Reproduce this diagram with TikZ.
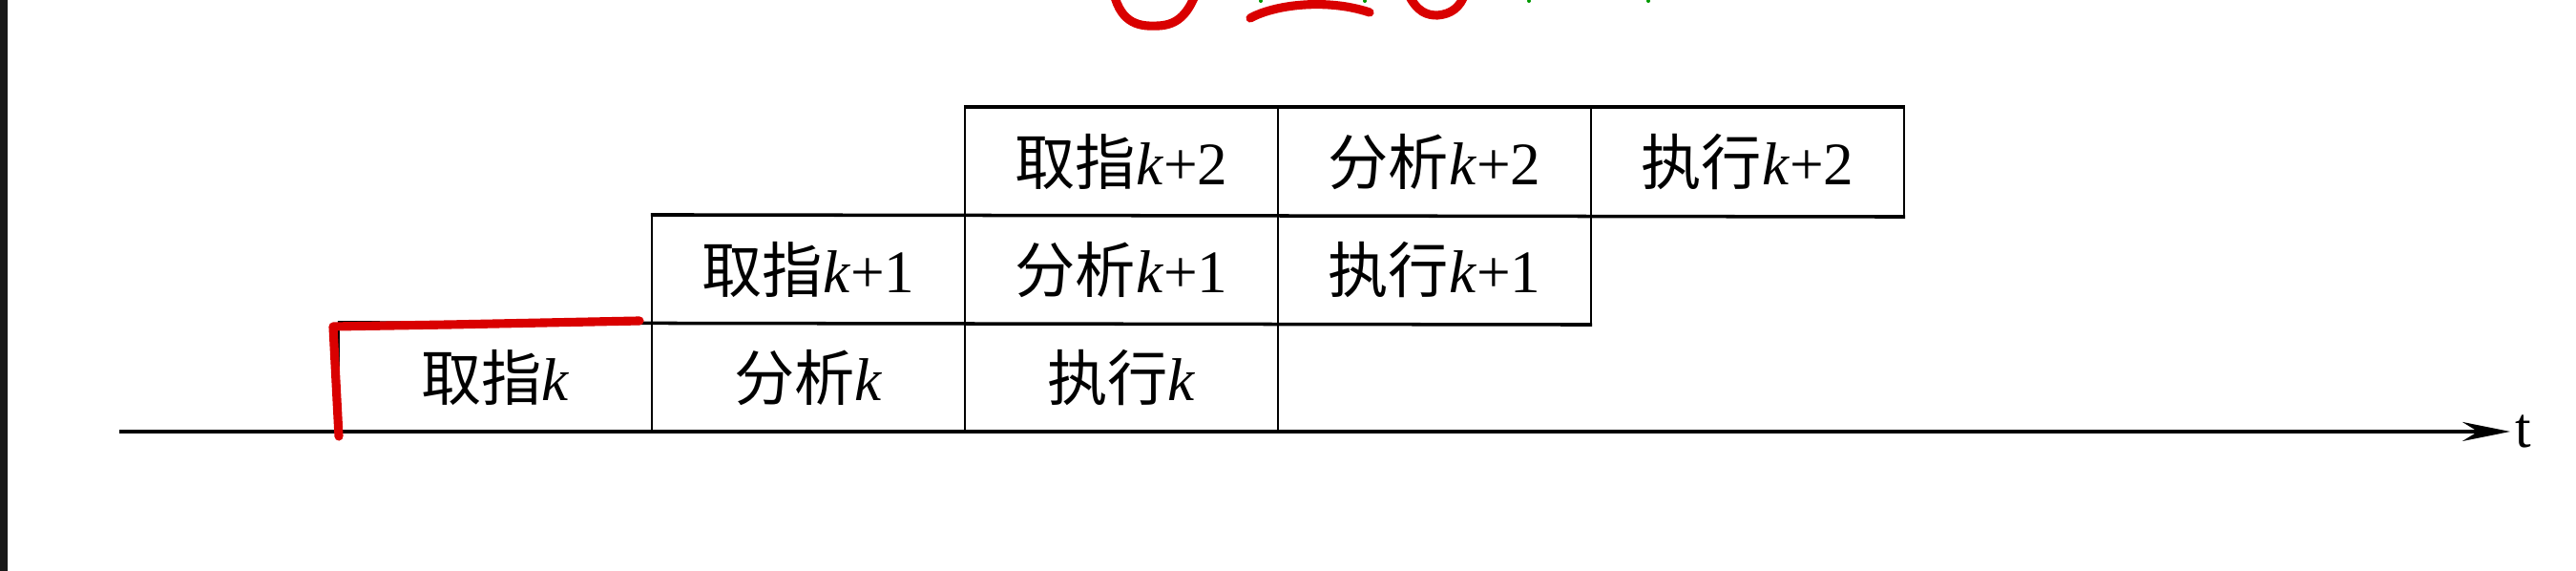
\documentclass[tikz,border=0pt]{standalone}
\usepackage{fontspec}
\setmainfont{Liberation Serif}
\newfontfamily\cjk{Noto Sans CJK SC}
\usetikzlibrary{arrows.meta}

\tikzset{
  cell/.style={draw, line width=0.6pt, minimum width=3.28cm, minimum height=1.13cm,
    inner sep=0pt, font=\fontsize{18}{20}\selectfont},
  rowline/.style={line width=1pt},
  redmark/.style={red!85!black, line width=2.6pt, line cap=round, line join=round}
}
\newcommand{\op}[2]{{\cjk 
#1}\textit{k}#2}

\begin{document}
\begin{tikzpicture}
\useasboundingbox (0,0) rectangle (26.99,5.98);
\fill[white] (0,0) rectangle (26.99,5.98);
\fill[black!90] (0,0) rectangle (0.08,5.98);

% instruction k
\node[cell] (fetch0) at (5.19,2.025) {\op{取指}{}};
\node[cell] (anal0) at (8.47,2.025) {\op{分析}{}};
\node[cell] (exec0) at (11.75,2.025) {\op{执行}{}};
% instruction k+1
\node[cell] (fetch1) at (8.47,3.155) {\op{取指}{+1}};
\node[cell] (anal1) at (11.75,3.155) {\op{分析}{+1}};
\node[cell] (exec1) at (15.03,3.155) {\op{执行}{+1}};
% instruction k+2
\node[cell] (fetch2) at (11.75,4.285) {\op{取指}{+2}};
\node[cell] (anal2) at (15.03,4.285) {\op{分析}{+2}};
\node[cell] (exec2) at (18.31,4.285) {\op{执行}{+2}};

% heavier row lines
\draw[rowline] (fetch0.north west) -- (exec1.south east);
\draw[rowline] (fetch1.north west) -- (exec2.south east);
\draw[rowline] (fetch2.north west) -- (exec2.north east);

% time axis
\coordinate (t0) at (1.25,1.46);
\coordinate (t1) at (26.30,1.46);
\draw[-{Stealth[length=5mm,width=2mm]}, line width=1.1pt] (t0) -- (t1)
  node[right, inner sep=1pt, font=\fontsize{17}{20}\selectfont] {t};

% red marks
\draw[redmark] (3.55,1.41) -- (3.49,2.56) -- (4.70,2.58) -- (6.70,2.62);
\draw[redmark] (11.67,6.05) .. controls (11.75,5.72) and (11.95,5.70) .. (12.14,5.71)
  .. controls (12.35,5.72) and (12.45,5.85) .. (12.53,6.05);
\draw[redmark] (13.10,5.79) .. controls (13.35,5.93) and (13.90,6.00) .. (14.35,5.85);
\draw[redmark] (14.75,6.05) .. controls (14.85,5.85) and (14.95,5.82) .. (15.06,5.82)
  .. controls (15.20,5.83) and (15.30,5.90) .. (15.35,6.05);
\foreach \x in {13.21,14.30,16.02,17.27}
  \fill[green!60!black] (\x,5.97) circle (0.02);
\end{tikzpicture}
\end{document}
